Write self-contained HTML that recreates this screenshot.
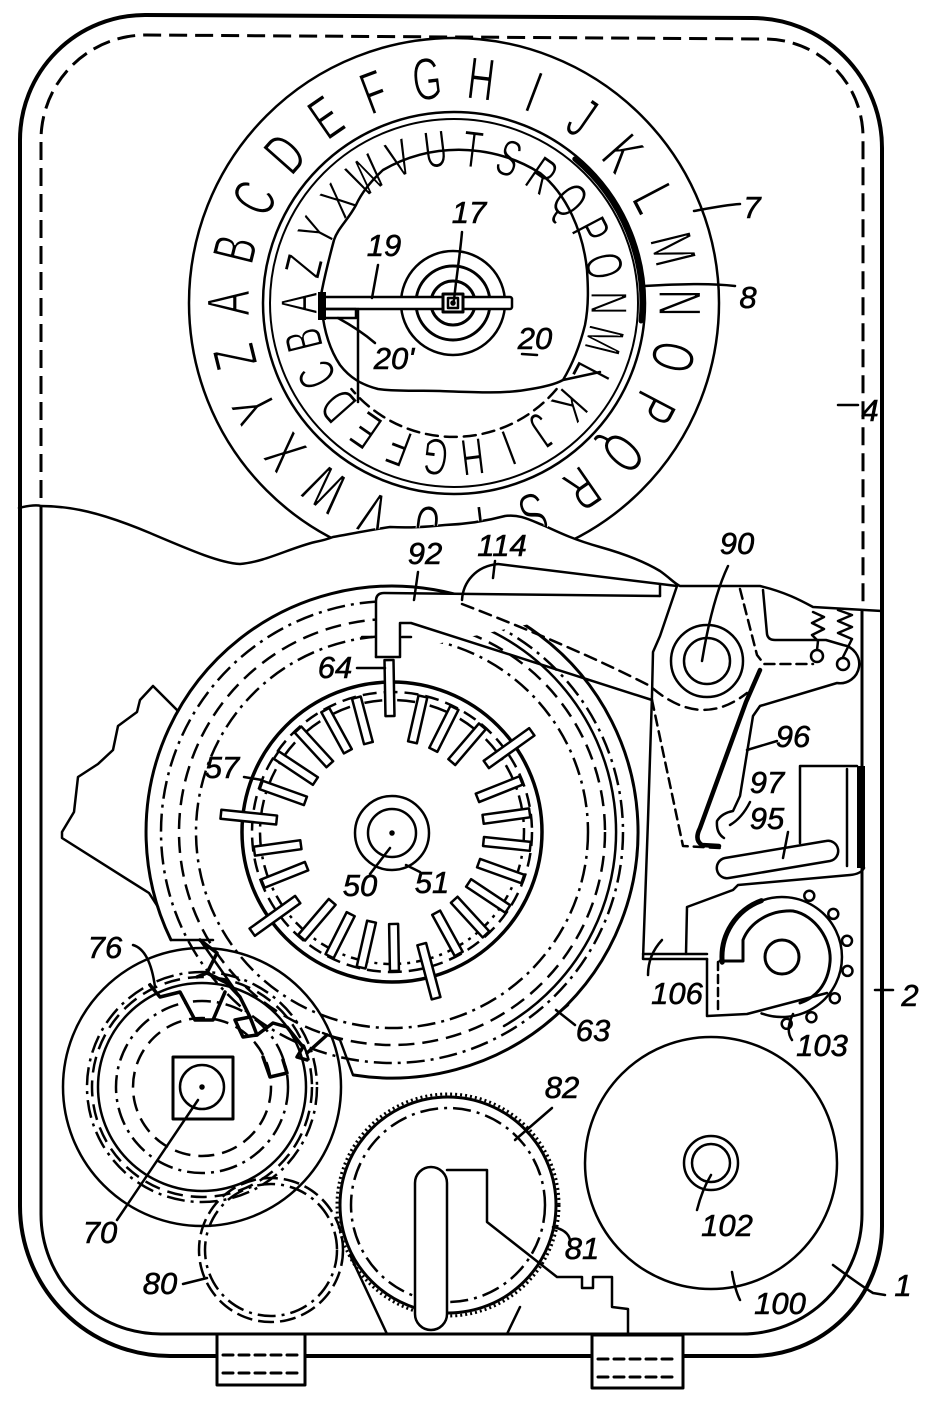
<!DOCTYPE html>
<html><head><meta charset="utf-8">
<style>
html,body{margin:0;padding:0;background:#fff;}
svg{display:block;}
text{font-family:"Liberation Sans",sans-serif;}
</style></head><body>
<svg xmlns="http://www.w3.org/2000/svg" width="951" height="1401" viewBox="0 0 951 1401">
<defs>
<clipPath id="top"><polygon points="0,0 951,0 951,611 863,611 813,607 790,596 760,586 680,586 660,571 630,557 600,547 575,539 545,526 525,518 505,516 475,522 445,525 415,528 390,527 360,532 333,537 315,542 290,548 265,560 240,564 200,552 150,533 100,512 41,506 0,506"/></clipPath>
</defs>
<rect width="951" height="1401" fill="#fff"/>
<g fill="none" stroke="#000" stroke-width="2.5" stroke-linecap="round" stroke-linejoin="round">

<!-- frame -->
<path d="M20,140 A125,125 0 0 1 145,15 L752,18 A130,130 0 0 1 882,148 L882,1226 A130,130 0 0 1 752,1356 L170,1356 A150,150 0 0 1 20,1206 Z" stroke-width="4"/>
<path d="M41,498 L41,140 A105,105 0 0 1 146,35 L765,39 A98,98 0 0 1 863,137 L863,611" stroke-dasharray="18 8" stroke-width="3" stroke-linecap="butt"/>
<path d="M41,507 L41,1214 A120,120 0 0 0 161,1334 L742,1334 A120,120 0 0 0 862,1214 L862,611" stroke-width="3"/>
<!-- break line -->
<path d="M19,508 C30,505 38,505 41,506 C70,506 100,512 150,533 C190,550 220,563 240,564 C265,562 290,548 315,542 C325,540 328,539 333,537 C350,534 370,530 390,527 C410,528 425,527 445,525 C470,524 490,520 505,516 C520,514 530,520 545,526 C560,533 575,540 600,547 C625,554 645,562 660,571 C670,578 675,584 680,586 L760,586 C785,592 800,600 813,607 L882,611"/>

<!-- DIAL -->
<g clip-path="url(#top)">
<circle cx="454" cy="303" r="265"/>
<circle cx="454" cy="303" r="191" stroke-width="2.5"/>
<circle cx="454" cy="303" r="184" stroke-width="2"/>
<path d="M574.8,159 A188,188 0 0 1 641.1,321" stroke-width="5"/>
<g fill="#000" stroke="#fff" stroke-width="1.2" font-size="60" text-anchor="middle">
<text transform="rotate(270 454 303) translate(454 76) scale(0.62 1)" y="22">A</text>
<text transform="rotate(283.85 454 303) translate(454 76) scale(0.62 1)" y="22">B</text>
<text transform="rotate(297.69 454 303) translate(454 76) scale(0.62 1)" y="22">C</text>
<text transform="rotate(311.54 454 303) translate(454 76) scale(0.62 1)" y="22">D</text>
<text transform="rotate(325.38 454 303) translate(454 76) scale(0.62 1)" y="22">E</text>
<text transform="rotate(339.23 454 303) translate(454 76) scale(0.62 1)" y="22">F</text>
<text transform="rotate(353.08 454 303) translate(454 76) scale(0.62 1)" y="22">G</text>
<text transform="rotate(6.92 454 303) translate(454 76) scale(0.62 1)" y="22">H</text>
<text transform="rotate(20.77 454 303) translate(454 76) scale(0.62 1)" y="22">I</text>
<text transform="rotate(34.62 454 303) translate(454 76) scale(0.62 1)" y="22">J</text>
<text transform="rotate(48.46 454 303) translate(454 76) scale(0.62 1)" y="22">K</text>
<text transform="rotate(62.31 454 303) translate(454 76) scale(0.62 1)" y="22">L</text>
<text transform="rotate(76.15 454 303) translate(454 76) scale(0.62 1)" y="22">M</text>
<text transform="rotate(90 454 303) translate(454 76) scale(0.62 1)" y="22">N</text>
<text transform="rotate(103.85 454 303) translate(454 76) scale(0.62 1)" y="22">O</text>
<text transform="rotate(117.69 454 303) translate(454 76) scale(0.62 1)" y="22">P</text>
<text transform="rotate(131.54 454 303) translate(454 76) scale(0.62 1)" y="22">Q</text>
<text transform="rotate(145.38 454 303) translate(454 76) scale(0.62 1)" y="22">R</text>
<text transform="rotate(159.23 454 303) translate(454 76) scale(0.62 1)" y="22">S</text>
<text transform="rotate(173.08 454 303) translate(454 76) scale(0.62 1)" y="22">T</text>
<text transform="rotate(186.92 454 303) translate(454 76) scale(0.62 1)" y="22">U</text>
<text transform="rotate(200.77 454 303) translate(454 76) scale(0.62 1)" y="22">V</text>
<text transform="rotate(214.62 454 303) translate(454 76) scale(0.62 1)" y="22">W</text>
<text transform="rotate(228.46 454 303) translate(454 76) scale(0.62 1)" y="22">X</text>
<text transform="rotate(242.31 454 303) translate(454 76) scale(0.62 1)" y="22">Y</text>
<text transform="rotate(256.15 454 303) translate(454 76) scale(0.62 1)" y="22">Z</text>
</g>
<g fill="#000" stroke="#fff" stroke-width="1.1" font-size="52" text-anchor="middle">
<text transform="rotate(270 454 303) translate(454 147) scale(0.62 1)" y="19">A</text>
<text transform="rotate(256.15 454 303) translate(454 147) scale(0.62 1)" y="19">B</text>
<text transform="rotate(242.31 454 303) translate(454 147) scale(0.62 1)" y="19">C</text>
<text transform="rotate(228.46 454 303) translate(454 147) scale(0.62 1)" y="19">D</text>
<text transform="rotate(214.62 454 303) translate(454 147) scale(0.62 1)" y="19">E</text>
<text transform="rotate(200.77 454 303) translate(454 147) scale(0.62 1)" y="19">F</text>
<text transform="rotate(186.92 454 303) translate(454 147) scale(0.62 1)" y="19">G</text>
<text transform="rotate(173.08 454 303) translate(454 147) scale(0.62 1)" y="19">H</text>
<text transform="rotate(159.23 454 303) translate(454 147) scale(0.62 1)" y="19">I</text>
<text transform="rotate(145.38 454 303) translate(454 147) scale(0.62 1)" y="19">J</text>
<text transform="rotate(131.54 454 303) translate(454 147) scale(0.62 1)" y="19">K</text>
<text transform="rotate(117.69 454 303) translate(454 147) scale(0.62 1)" y="19">L</text>
<text transform="rotate(103.85 454 303) translate(454 147) scale(0.62 1)" y="19">M</text>
<text transform="rotate(90 454 303) translate(454 147) scale(0.62 1)" y="19">N</text>
<text transform="rotate(76.15 454 303) translate(454 147) scale(0.62 1)" y="19">O</text>
<text transform="rotate(62.31 454 303) translate(454 147) scale(0.62 1)" y="19">P</text>
<text transform="rotate(48.46 454 303) translate(454 147) scale(0.62 1)" y="19">Q</text>
<text transform="rotate(34.62 454 303) translate(454 147) scale(0.62 1)" y="19">R</text>
<text transform="rotate(20.77 454 303) translate(454 147) scale(0.62 1)" y="19">S</text>
<text transform="rotate(6.92 454 303) translate(454 147) scale(0.62 1)" y="19">T</text>
<text transform="rotate(353.08 454 303) translate(454 147) scale(0.62 1)" y="19">U</text>
<text transform="rotate(339.23 454 303) translate(454 147) scale(0.62 1)" y="19">V</text>
<text transform="rotate(325.38 454 303) translate(454 147) scale(0.62 1)" y="19">W</text>
<text transform="rotate(311.54 454 303) translate(454 147) scale(0.62 1)" y="19">X</text>
<text transform="rotate(297.69 454 303) translate(454 147) scale(0.62 1)" y="19">Y</text>
<text transform="rotate(283.85 454 303) translate(454 147) scale(0.62 1)" y="19">Z</text>
</g>
<!-- window cutaway -->
<path d="M540,173 A153,153 0 0 0 383,170 C372,180 362,192 356,205 C348,220 338,228 334,240 C330,255 326,270 322,290 L320,300 M322,310 C324,330 330,350 340,365 C350,378 362,385 378,389 C400,392 420,390 440,391 C470,392 500,394 525,390 C545,387 556,384 563,380 C572,365 580,345 585,325 C589,305 588,285 587,270 C585,250 580,232 572,215 C565,200 555,185 540,173 M563,380 L600,372" stroke-width="2.5"/>
<path d="M556.6,389.1 A134,134 0 0 1 351.4,389.1" stroke-dasharray="12 7"/>
<!-- hub -->
<circle cx="453" cy="303" r="52"/>
<circle cx="453" cy="303" r="37" stroke-width="3"/>
<circle cx="453" cy="303" r="22" stroke-width="3"/>
<rect x="320" y="297" width="192" height="12" rx="2" fill="#fff" stroke-width="2.5"/>
<rect x="318" y="292" width="8" height="28" fill="#000" stroke="none"/>
<rect x="443" y="294" width="20" height="18" fill="#fff" stroke-width="3"/>
<rect x="448" y="298" width="10" height="10"/>
<circle cx="453" cy="303" r="1.5" fill="#000"/>
<rect x="322" y="309" width="34" height="9" stroke-width="2.5"/>
<path d="M358,309 L358,402"/>
</g>

<!-- RING 63 -->
<path d="M170.9,939.8 A246,246 0 1 1 353.5,1075" stroke-width="3"/>
<circle cx="392" cy="832" r="231" stroke-dasharray="18 6 3 6" stroke-linecap="butt"/>
<circle cx="392" cy="832" r="213" stroke-dasharray="16 8" stroke-linecap="butt"/>
<circle cx="392" cy="832" r="196" stroke-dasharray="18 6 3 6" stroke-linecap="butt"/>
<path d="M450,615.6 A224,224 0 0 1 504,1026"/>
<path d="M171,940 L213,940 M200,940 L240,997 M323,1033 L340,1040 L353,1075"/>
<!-- torn region -->
<path d="M178,711 L153,686 L140,700 L137,712 L118,726 L113,750 L98,764 L78,777 L74,812 L62,832 L62,838 L149,893 L158,907"/>

<!-- WHEEL 57 -->
<circle cx="392" cy="832" r="150" fill="#fff" stroke-width="3.5"/>
<circle cx="392" cy="832" r="140" stroke-dasharray="14 7" stroke-linecap="butt"/>
<circle cx="392" cy="832" r="132" stroke-dasharray="18 6 3 6" stroke-linecap="butt"/>
<g fill="#fff" stroke-width="2.5">
<rect x="387.5" y="660" width="9" height="56" transform="rotate(-1 392 832)"/>
<rect x="387.5" y="693" width="9" height="47" transform="rotate(12.85 392 832)"/>
<rect x="387.5" y="693" width="9" height="47" transform="rotate(26.69 392 832)"/>
<rect x="387.5" y="693" width="9" height="47" transform="rotate(40.54 392 832)"/>
<rect x="387.5" y="660" width="9" height="56" transform="rotate(54.38 392 832)"/>
<rect x="387.5" y="693" width="9" height="47" transform="rotate(68.23 392 832)"/>
<rect x="387.5" y="693" width="9" height="47" transform="rotate(82.08 392 832)"/>
<rect x="387.5" y="693" width="9" height="47" transform="rotate(95.92 392 832)"/>
<rect x="387.5" y="693" width="9" height="47" transform="rotate(109.77 392 832)"/>
<rect x="387.5" y="693" width="9" height="47" transform="rotate(123.62 392 832)"/>
<rect x="387.5" y="693" width="9" height="47" transform="rotate(137.46 392 832)"/>
<rect x="387.5" y="693" width="9" height="47" transform="rotate(151.31 392 832)"/>
<rect x="387.5" y="660" width="9" height="56" transform="rotate(165.15 392 832)"/>
<rect x="387.5" y="693" width="9" height="47" transform="rotate(179 392 832)"/>
<rect x="387.5" y="693" width="9" height="47" transform="rotate(192.85 392 832)"/>
<rect x="387.5" y="693" width="9" height="47" transform="rotate(206.69 392 832)"/>
<rect x="387.5" y="693" width="9" height="47" transform="rotate(220.54 392 832)"/>
<rect x="387.5" y="660" width="9" height="56" transform="rotate(234.38 392 832)"/>
<rect x="387.5" y="693" width="9" height="47" transform="rotate(248.23 392 832)"/>
<rect x="387.5" y="693" width="9" height="47" transform="rotate(262.08 392 832)"/>
<rect x="387.5" y="660" width="9" height="56" transform="rotate(275.92 392 832)"/>
<rect x="387.5" y="693" width="9" height="47" transform="rotate(289.77 392 832)"/>
<rect x="387.5" y="693" width="9" height="47" transform="rotate(303.62 392 832)"/>
<rect x="387.5" y="693" width="9" height="47" transform="rotate(317.46 392 832)"/>
<rect x="387.5" y="693" width="9" height="47" transform="rotate(331.31 392 832)"/>
<rect x="387.5" y="693" width="9" height="47" transform="rotate(345.15 392 832)"/>
</g>
<circle cx="392" cy="833" r="37"/>
<circle cx="392" cy="833" r="24"/>
<circle cx="392" cy="833" r="1.5" fill="#000"/>

<!-- 92 tooth & arms -->
<path d="M376,657 L376,601 Q376,593 384,593 L660,596" fill="#fff"/>
<path d="M376,657 L400,657 L400,623 L411,623 L652,700"/>
<path d="M362,637 L372,637 M402,637 L411,637"/>
<path d="M462,600 C463,582 476,566 498,564 L677,586 M660,584 L660,596"/>
<path d="M462,604 C530,630 600,660 650,686 Q700,730 747,693" stroke-dasharray="12 7"/>

<!-- LEVER -->
<path d="M677,586 L660,636 L653,652 L652,695 L648,820 L643,959 L707,959 M643,954 L707,954"/>
<path d="M763,590 L767,634 Q768,640 775,640 L826,640 L843,645 A19,19 0 0 1 837,683 L760,706 L753,716 L740,796 L733,811 Q722,813 717,821 Q716,833 724,838"/>
<path d="M760,670 L746,702 L700,828 Q694,840 702,845 L719,846" stroke-width="4.5"/>
<path d="M740,589 L757,655 L764,664 L813,664" stroke-dasharray="10 6"/>
<path d="M652,700 L683,846 L720,848" stroke-dasharray="10 6"/>
<circle cx="707" cy="661" r="36" fill="#fff"/>
<circle cx="707" cy="661" r="23"/>
<path d="M813,612 L824,617 L812,623 L824,629 L812,635 L818,641 L817,650"/>
<path d="M838,610 L852,615 L838,621 L852,627 L838,633 L852,639 L843,657"/>
<circle cx="817" cy="656" r="6" fill="#fff"/>
<circle cx="843" cy="664" r="6" fill="#fff"/>
<!-- bracket -->
<path d="M800,843 L800,766 L857,766 M847,769 L847,866"/>
<rect x="857" y="766" width="8" height="102" fill="#000" stroke="none"/>
<path d="M725,858 L826,841 A10,10 0 0 1 830,861 L729,878 A10,10 0 0 1 725,858 Z" fill="#fff"/>
<path d="M864,868 Q861,874 850,875 L738,885 L733,890 L687,907 L686,954"/>
<!-- 106 piece -->
<path d="M707,959 L707,1016 L747,1014 L827,993"/>
<path d="M718,962 L718,1014" stroke-dasharray="8 5"/>
<!-- gear 103 -->
<path d="M761.5,900.6 A60,60 0 1 1 761.5,1013.4"/>
<path d="M722.2,962.2 A60,60 0 0 1 761.5,900.6" stroke-width="5"/>
<path d="M720,961 L743,961 L743,940 C750,922 770,910 793,911 C815,915 832,940 830,962 C828,985 815,998 800,1003" stroke-width="3"/>
<circle cx="782" cy="957" r="17" stroke-width="3"/>
<g fill="#fff">
<circle cx="809.3" cy="895.8" r="5"/><circle cx="833.3" cy="913.9" r="5"/><circle cx="847" cy="940.8" r="5"/><circle cx="847.5" cy="970.9" r="5"/><circle cx="834.8" cy="998.2" r="5"/><circle cx="811.4" cy="1017.2" r="5"/><circle cx="786.7" cy="1023.8" r="5"/>
</g>

<!-- GROUP 70 -->
<circle cx="202" cy="1087" r="139"/>
<circle cx="202" cy="1087" r="115" stroke-dasharray="18 6 3 6" stroke-linecap="butt"/>
<circle cx="202" cy="1087" r="110" stroke-dasharray="16 8" stroke-linecap="butt"/>
<circle cx="202" cy="1087" r="104"/>
<circle cx="202" cy="1087" r="86" stroke-dasharray="18 6 3 6" stroke-linecap="butt"/>
<circle cx="202" cy="1087" r="69" stroke-dasharray="16 8" stroke-linecap="butt"/>
<rect x="173" y="1057" width="60" height="62" stroke-width="3"/>
<circle cx="202" cy="1087" r="22"/>
<circle cx="202" cy="1087" r="1.5" fill="#000"/>
<g stroke-width="3.5">
<path d="M150,985 L160,997 L180,992 L195,1020 L213,1020 L225,992"/>
<path d="M200,940 L217,953 L207,973 L197,977 M207,973 L227,983 L240,997 L250,1017"/>
<path d="M235,1020 L243,1037 L257,1035 L250,1017 Z"/>
<path d="M257,1035 L273,1023 L287,1027 L303,1047 L297,1057 L307,1060"/>
<path d="M263,1057 L270,1077 L287,1073 L283,1060"/>
<path d="M307,1053 L327,1035"/>
</g>
<!-- gear 80 -->
<circle cx="271" cy="1250" r="72" stroke-dasharray="16 6" stroke-linecap="butt"/>
<circle cx="271" cy="1250" r="66" stroke-dasharray="18 6 3 6" stroke-linecap="butt"/>
<!-- gear 82 -->
<circle cx="448" cy="1205" r="108" stroke-width="3"/>
<circle cx="448" cy="1205" r="111" stroke-width="3" stroke-dasharray="2 3" stroke-linecap="butt"/>
<circle cx="448" cy="1205" r="97" stroke-dasharray="18 6 3 6" stroke-linecap="butt"/>
<path d="M415,1183 A16,16 0 0 1 447,1183 L447,1314 A16,16 0 0 1 415,1314 Z" fill="#fff"/>
<path d="M447,1170 L487,1170 L487,1222 L557,1277 L582,1277 L582,1288 L593,1288 L593,1277 L612,1277 L612,1307 L628,1309 L628,1334"/>
<path d="M350,1255 L387,1334 M520,1307 L507,1334"/>
<!-- disk 100 -->
<circle cx="711" cy="1163" r="126"/>
<circle cx="711" cy="1163" r="27"/>
<circle cx="711" cy="1163" r="19"/>

<!-- tabs -->
<rect x="217" y="1334" width="88" height="51" fill="#fff" stroke-width="3"/>
<path d="M223,1355 L300,1355 M223,1373 L300,1373" stroke-dasharray="10 6" stroke-width="3"/>
<rect x="592" y="1335" width="91" height="53" fill="#fff" stroke-width="3"/>
<path d="M598,1359 L678,1359 M598,1377 L678,1377" stroke-dasharray="10 6" stroke-width="3"/>

<!-- leaders -->
<path d="M694,211 C710,208 725,205 740,204"/>
<path d="M644,286 C680,284 710,283 735,286"/>
<path d="M838,405 L858,405"/>
<path d="M462,232 C460,255 456,280 454,300"/>
<path d="M378,265 L372,298"/>
<path d="M375,343 Q360,330 338,318"/>
<path d="M522,354 L537,355"/>
<path d="M418,572 L414,600"/>
<path d="M495,561 L493,578"/>
<path d="M728,566 Q712,600 702,661"/>
<path d="M357,668 L385,668"/>
<path d="M244,777 L262,780"/>
<path d="M370,874 L390,848"/>
<path d="M420,872 Q412,868 406,865"/>
<path d="M747,750 L777,741"/>
<path d="M750,802 Q742,818 730,825"/>
<path d="M788,832 L783,858"/>
<path d="M662,940 Q648,955 648,975"/>
<path d="M793,1014 Q785,1030 792,1040"/>
<path d="M875,990 L893,990"/>
<path d="M548,1022 L568,1005 M556,1010 L575,1025"/>
<path d="M133,945 Q150,950 155,987"/>
<path d="M117,1220 L198,1100"/>
<path d="M183,1284 L207,1278"/>
<path d="M552,1108 L515,1140"/>
<path d="M553,1227 Q568,1230 570,1240"/>
<path d="M711,1175 Q702,1190 697,1210"/>
<path d="M732,1272 Q735,1290 740,1300"/>
<path d="M833,1265 Q860,1285 873,1293 L885,1295"/>
</g>

<!-- labels -->
<g fill="#000" stroke="#000" stroke-width="0.6" font-size="31" font-style="italic" text-anchor="middle">
<text x="752" y="218">7</text>
<text x="748" y="308">8</text>
<text x="870" y="421">4</text>
<text x="469" y="223">17</text>
<text x="384" y="256">19</text>
<text x="535" y="349">20</text>
<text x="394" y="369">20'</text>
<text x="425" y="564">92</text>
<text x="502" y="556">114</text>
<text x="737" y="554">90</text>
<text x="335" y="678">64</text>
<text x="222" y="778">57</text>
<text x="360" y="896">50</text>
<text x="432" y="893">51</text>
<text x="793" y="747">96</text>
<text x="767" y="793">97</text>
<text x="767" y="829">95</text>
<text x="677" y="1004">106</text>
<text x="822" y="1056">103</text>
<text x="910" y="1006">2</text>
<text x="593" y="1041">63</text>
<text x="105" y="958">76</text>
<text x="100" y="1243">70</text>
<text x="160" y="1294">80</text>
<text x="562" y="1098">82</text>
<text x="582" y="1259">81</text>
<text x="727" y="1236">102</text>
<text x="780" y="1314">100</text>
<text x="903" y="1296">1</text>
</g>
</svg>
</body></html>
